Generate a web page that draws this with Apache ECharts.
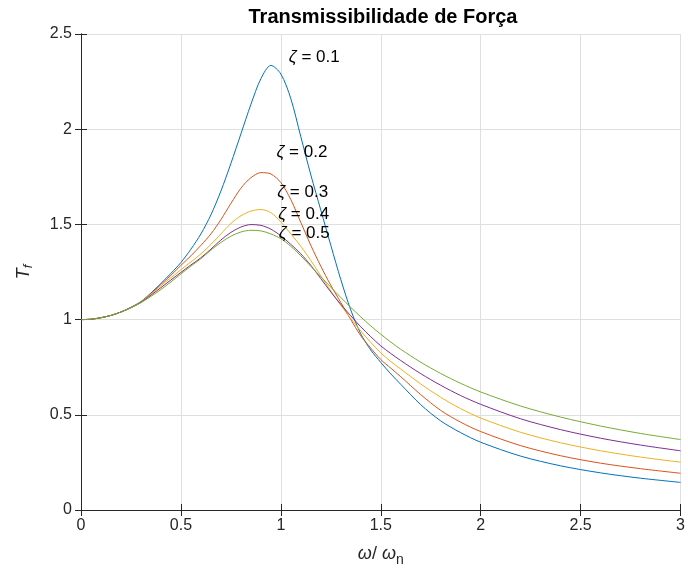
<!DOCTYPE html>
<html>
<head>
<meta charset="utf-8">
<script src="https://cdn.jsdelivr.net/npm/echarts@6/dist/echarts.min.js"></script>
<style>
html, body { margin: 0; padding: 0; background: #fff; }
#chart { width: 688px; height: 572px; }
</style>
</head>
<body>
<div id="chart"></div>
<script>
// razão de frequências (eixo x)
var ratio = [0, 0.05, 0.1, 0.15, 0.2, 0.25, 0.3, 0.35, 0.4, 0.45, 0.5, 0.55, 0.6, 0.65,
	0.7, 0.75, 0.8, 0.85, 0.9, 0.95, 1.0, 1.05, 1.1, 1.15, 1.2, 1.25, 1.3, 1.35, 1.4,
	1.45, 1.5, 1.55, 1.6, 1.7, 1.8, 1.9, 2.0, 2.2, 2.4, 2.6, 2.8, 3.0];

// transmissibilidade, uma curva por zeta
var zeta01 = [1.000, 1.002, 1.010, 1.022, 1.040, 1.065, 1.095, 1.140, 1.190, 1.243, 1.300,
	1.370, 1.450, 1.550, 1.675, 1.820, 1.975, 2.130, 2.265, 2.335, 2.290, 2.160, 1.960,
	1.760, 1.575, 1.390, 1.210, 1.050, 0.925, 0.840, 0.775, 0.715, 0.660, 0.553, 0.468,
	0.406, 0.356, 0.283, 0.232, 0.195, 0.167, 0.145];
var zeta02 = [1.000, 1.002, 1.010, 1.022, 1.040, 1.064, 1.093, 1.136, 1.185, 1.233, 1.285,
	1.335, 1.390, 1.450, 1.525, 1.610, 1.690, 1.745, 1.772, 1.765, 1.720, 1.630, 1.510,
	1.390, 1.280, 1.180, 1.090, 1.000, 0.915, 0.850, 0.790, 0.745, 0.700, 0.606, 0.523,
	0.461, 0.412, 0.338, 0.285, 0.246, 0.217, 0.193];
var zeta03 = [1.000, 1.002, 1.010, 1.022, 1.040, 1.063, 1.092, 1.133, 1.178, 1.220, 1.262,
	1.303, 1.345, 1.395, 1.450, 1.505, 1.545, 1.570, 1.578, 1.562, 1.512, 1.450, 1.385,
	1.310, 1.230, 1.150, 1.075, 1.005, 0.940, 0.880, 0.825, 0.780, 0.740, 0.662, 0.592,
	0.532, 0.483, 0.408, 0.353, 0.311, 0.278, 0.251];
var zeta04 = [1.000, 1.002, 1.010, 1.022, 1.040, 1.062, 1.090, 1.128, 1.168, 1.208, 1.248,
	1.287, 1.325, 1.370, 1.418, 1.458, 1.486, 1.499, 1.495, 1.475, 1.440, 1.395, 1.345,
	1.285, 1.215, 1.145, 1.080, 1.020, 0.962, 0.910, 0.862, 0.822, 0.785, 0.716, 0.655,
	0.601, 0.555, 0.479, 0.422, 0.377, 0.341, 0.311];
var zeta05 = [1.000, 1.002, 1.010, 1.022, 1.040, 1.062, 1.089, 1.122, 1.158, 1.198, 1.240,
	1.281, 1.320, 1.365, 1.405, 1.438, 1.460, 1.469, 1.466, 1.450, 1.425, 1.385, 1.335,
	1.280, 1.225, 1.170, 1.116, 1.064, 1.014, 0.967, 0.923, 0.882, 0.844, 0.776, 0.717,
	0.665, 0.620, 0.546, 0.488, 0.441, 0.402, 0.370];

// rótulos de texto ao lado dos picos
var zetaNames = ['0.1', '0.2', '0.3', '0.4', '0.5'];
var labelX = [1.04, 0.978, 0.982, 0.987, 0.99];
var labelY = [2.379, 1.878, 1.668, 1.552, 1.452];

var xTicks = { min: 0, max: 3, interval: 0.5 };
var yTicks = { min: 0, max: 2.5, interval: 0.5 };

var curves = [zeta01, zeta02, zeta03, zeta04, zeta05];
var colors = ['#0072BD', '#D95319', '#EDB120', '#7E2F8E', '#77AC30'];
var font = "'Liberation Sans', Arial, sans-serif";
var axisColor = '#262626';

function toPairs(ys) {
	return ratio.map(function(r, i) { return [r, ys[i]]; });
}

var series = curves.map(function(ys, i) {
	return {
		name: 'zeta ' + zetaNames[i],
		type: 'line',
		xAxisIndex: 0,
		yAxisIndex: 0,
		data: toPairs(ys),
		showSymbol: false,
		smooth: 0.3,
		lineStyle: { color: colors[i], width: 1 },
		itemStyle: { color: colors[i] },
		markPoint: {
			symbol: 'circle',
			symbolSize: 0,
			silent: true,
			animation: false,
			data: [{ coord: [labelX[i], labelY[i]] }],
			label: {
				show: true,
				position: 'right',
				distance: 0,
				formatter: '{z|ζ} = ' + zetaNames[i],
				color: '#000',
				fontSize: 17,
				fontFamily: font,
				rich: {
					z: { fontStyle: 'italic', fontSize: 17, fontFamily: font, color: '#000' }
				}
			}
		}
	};
});

function mirrorAxis(pos, ticks) {
	return {
		type: 'value',
		position: pos,
		min: ticks.min, max: ticks.max, interval: ticks.interval,
		axisLine: { show: true, lineStyle: { color: axisColor, width: 1 } },
		axisTick: { show: true, inside: true, length: 6, lineStyle: { color: axisColor } },
		axisLabel: { show: false },
		splitLine: { show: false }
	};
}

var chart = echarts.init(document.getElementById('chart'));

var option = {
	animation: false,
	backgroundColor: '#fff',
	title: {
		text: 'Transmissibilidade de Força',
		left: 383,
		top: 7,
		padding: 0,
		textAlign: 'center',
		textStyle: { fontSize: 20, fontWeight: 'bold', fontFamily: font, color: '#000' }
	},
	grid: { left: 81, right: 2, top: 34, bottom: 62 },
	xAxis: [{
		type: 'value',
		position: 'bottom',
		min: xTicks.min, max: xTicks.max, interval: xTicks.interval,
		name: '{i|ω}/ {i|ω}{s|n}',
		nameLocation: 'middle',
		nameGap: 31,
		nameTextStyle: {
			color: axisColor, fontSize: 18, fontFamily: font,
			rich: {
				i: { fontStyle: 'italic', fontSize: 18, fontFamily: font, color: axisColor },
				s: { fontSize: 14, fontFamily: font, color: axisColor, padding: [12, 0, 0, 0] }
			}
		},
		axisLine: { show: true, lineStyle: { color: axisColor, width: 1 } },
		axisTick: { show: true, inside: true, length: 6, lineStyle: { color: axisColor } },
		axisLabel: { color: axisColor, fontSize: 16, fontFamily: font, margin: 8 },
		splitLine: { show: true, lineStyle: { color: '#dfdfdf', width: 1 } }
	}, mirrorAxis('top', xTicks)],
	yAxis: [{
		type: 'value',
		position: 'left',
		min: yTicks.min, max: yTicks.max, interval: yTicks.interval,
		name: '{i|T}{s|f}',
		nameLocation: 'middle',
		nameRotate: 90,
		nameGap: 46,
		nameTextStyle: {
			color: axisColor, fontSize: 18, fontFamily: font,
			rich: {
				i: { fontStyle: 'italic', fontSize: 18, fontFamily: font, color: axisColor },
				s: { fontStyle: 'italic', fontSize: 13, fontFamily: font, color: axisColor, padding: [10, 0, 0, 0] }
			}
		},
		axisLine: { show: true, lineStyle: { color: axisColor, width: 1 } },
		axisTick: { show: true, inside: true, length: 6, lineStyle: { color: axisColor } },
		axisLabel: { color: axisColor, fontSize: 16, fontFamily: font, margin: 9 },
		splitLine: { show: true, lineStyle: { color: '#dfdfdf', width: 1 } }
	}, mirrorAxis('right', yTicks)],
	series: series
};

chart.setOption(option);
</script>
</body>
</html>
